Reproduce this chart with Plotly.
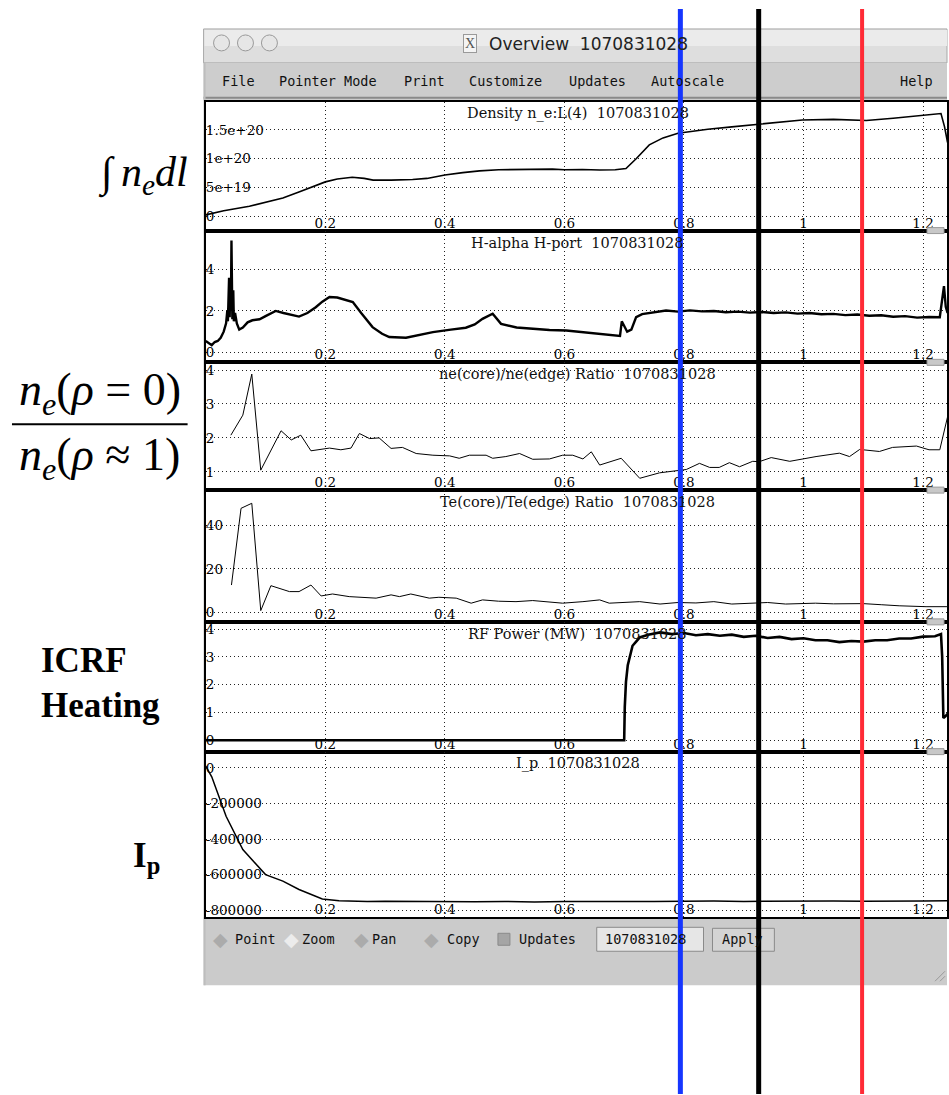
import plotly.graph_objects as go

# ---------------- data ----------------
x_ticks = [0.2, 0.4, 0.6, 0.8, 1.0, 1.2]
x_ticktext = ["0.2", "0.4", "0.6", "0.8", "1", "1.2"]

dens_t = [0, 0.03, 0.073, 0.1, 0.129, 0.157, 0.2, 0.22, 0.245, 0.265, 0.28, 0.31, 0.346, 0.37, 0.40,
          0.43, 0.458, 0.49, 0.52, 0.55, 0.58, 0.60, 0.63, 0.659, 0.685, 0.703, 0.72, 0.742, 0.765,
          0.79, 0.84, 0.88, 0.92, 0.96, 0.998, 1.05, 1.105, 1.15, 1.194, 1.23, 1.236, 1.241]
dens_v = [0.3e19, 1.0e19, 1.8e19, 2.5e19, 3.2e19, 4.3e19, 6.0e19, 6.5e19, 6.8e19, 6.6e19, 6.3e19,
          6.3e19, 6.4e19, 6.6e19, 7.2e19, 7.6e19, 7.9e19, 8.1e19, 8.15e19, 8.1e19, 8.2e19, 8.1e19,
          8.15e19, 8.05e19, 8.1e19, 8.3e19, 10.0e19, 12.4e19, 13.6e19, 14.4e19, 15.1e19, 15.5e19,
          15.9e19, 16.3e19, 16.7e19, 16.8e19, 16.6e19, 17.0e19, 17.4e19, 17.8e19, 15.5e19, 12.8e19]

ha_t = [0.0, 0.005, 0.01, 0.015, 0.02, 0.025, 0.03, 0.034, 0.036, 0.037, 0.038, 0.039, 0.040, 0.041,
        0.042, 0.043, 0.0445, 0.046, 0.047, 0.049, 0.052, 0.056, 0.062, 0.07, 0.078, 0.09, 0.10,
        0.117, 0.13, 0.145, 0.156, 0.17, 0.184, 0.195, 0.207, 0.22, 0.229, 0.246, 0.26, 0.279, 0.295,
        0.307, 0.335, 0.36, 0.38, 0.41, 0.435, 0.45, 0.463, 0.48, 0.487, 0.494, 0.52, 0.547, 0.575,
        0.603, 0.63, 0.653, 0.68, 0.693, 0.696, 0.70, 0.705, 0.712, 0.72, 0.73, 0.75, 0.77, 0.79,
        0.81, 0.83, 0.85, 0.87, 0.89, 0.91, 0.93, 0.95, 0.97, 0.99, 1.01, 1.03, 1.05, 1.07, 1.09,
        1.11, 1.13, 1.15, 1.17, 1.19, 1.21, 1.228, 1.232, 1.235, 1.238, 1.241]
ha_v = [0.55, 0.45, 0.35, 0.5, 0.55, 0.7, 1.0, 1.4, 2.0, 1.5, 2.6, 3.6, 1.7, 3.3, 2.0, 5.4, 1.6,
        3.0, 1.5, 1.9, 1.4, 1.1, 1.2, 1.45, 1.55, 1.6, 1.75, 2.0, 1.9, 1.8, 1.73, 1.9, 2.18, 2.45,
        2.67, 2.65, 2.58, 2.43, 1.9, 1.22, 0.9, 0.74, 0.71, 0.85, 0.98, 1.1, 1.19, 1.35, 1.62, 1.87,
        1.6, 1.38, 1.2, 1.14, 1.08, 1.06, 0.98, 0.9, 0.85, 0.8, 1.5, 1.3, 1.0, 1.1, 1.7, 1.85, 1.95,
        2.02, 1.97, 2.03, 1.98, 2.0, 1.94, 1.97, 1.92, 1.95, 1.9, 1.93, 1.87, 1.9, 1.84, 1.86, 1.8,
        1.83, 1.77, 1.79, 1.72, 1.75, 1.68, 1.71, 1.7, 2.6, 3.2, 2.2, 1.9]

ner_t = [0.042, 0.062, 0.077, 0.092, 0.126, 0.143, 0.159, 0.176, 0.207, 0.226, 0.243, 0.257, 0.274,
         0.290, 0.31, 0.329, 0.352, 0.38, 0.408, 0.424, 0.441, 0.469, 0.48, 0.502, 0.525, 0.547,
         0.575, 0.597, 0.614, 0.631, 0.645, 0.659, 0.695, 0.726, 0.759, 0.804, 0.826, 0.843, 0.859,
         0.876, 0.893, 0.915, 0.926, 0.946, 0.977, 1.021, 1.06, 1.077, 1.094, 1.127, 1.149, 1.189,
         1.21, 1.228, 1.241]
ner_v = [2.08, 2.67, 3.88, 1.05, 2.21, 1.94, 2.08, 1.62, 1.70, 1.65, 1.70, 2.13, 1.98, 2.0, 1.69,
         1.72, 1.54, 1.49, 1.47, 1.40, 1.49, 1.49, 1.40, 1.45, 1.54, 1.37, 1.38, 1.49, 1.49, 1.38,
         1.59, 1.20, 1.40, 0.81, 0.97, 1.07, 1.25, 1.13, 1.13, 1.27, 1.15, 1.31, 1.30, 1.42, 1.31,
         1.45, 1.55, 1.45, 1.66, 1.60, 1.72, 1.76, 1.65, 1.65, 2.62]

ter_t = [0.043, 0.059, 0.077, 0.092, 0.109, 0.125, 0.14, 0.156, 0.176, 0.193, 0.212, 0.24, 0.285,
         0.31, 0.324, 0.343, 0.374, 0.39, 0.419, 0.444, 0.463, 0.49, 0.519, 0.547, 0.575, 0.597,
         0.631, 0.659, 0.675, 0.70, 0.726, 0.76, 0.79, 0.82, 0.85, 0.88, 0.91, 0.94, 0.97, 1.0,
         1.02, 1.05, 1.07, 1.1, 1.13, 1.16, 1.205, 1.24]
ter_v = [12.6, 47.7, 50.0, 0.9, 12.3, 10.8, 9.6, 9.6, 12.6, 7.6, 8.5, 7.3, 6.6, 8.1, 7.3, 8.5, 6.6,
         7.0, 6.6, 4.3, 5.8, 5.2, 5.0, 5.5, 5.0, 4.3, 5.0, 5.8, 4.3, 4.8, 5.0, 3.9, 4.6, 4.4, 5.0,
         3.9, 4.3, 4.6, 3.9, 4.2, 4.3, 4.0, 3.9, 4.1, 3.6, 3.1, 2.7, 2.7]

rf_t = [0.0, 0.700, 0.701, 0.703, 0.706, 0.710, 0.714, 0.72, 0.726, 0.74, 0.76, 0.78, 0.80, 0.82,
        0.84, 0.86, 0.88, 0.90, 0.92, 0.94, 0.96, 0.98, 1.0, 1.02, 1.04, 1.06, 1.08, 1.10, 1.12,
        1.14, 1.16, 1.18, 1.2, 1.22, 1.23, 1.232, 1.234, 1.237, 1.241]
rf_v = [0.0, 0.0, 1.2, 2.1, 2.7, 3.1, 3.4, 3.55, 3.7, 3.8, 3.88, 3.82, 3.86, 3.78, 3.82, 3.76, 3.8,
        3.72, 3.76, 3.68, 3.72, 3.64, 3.67, 3.6, 3.6, 3.53, 3.57, 3.55, 3.6, 3.6, 3.66, 3.66, 3.73,
        3.74, 3.82, 3.0, 0.8, 0.85, 0.95]

ip_t = [0.0, 0.01, 0.034, 0.062, 0.1, 0.129, 0.156, 0.195, 0.223, 0.25, 0.27, 0.3, 0.35, 0.4, 0.45,
        0.5, 0.55, 0.6, 0.65, 0.7, 0.75, 0.8, 0.85, 0.9, 0.95, 1.0, 1.05, 1.1, 1.15, 1.2, 1.241]
ip_v = [10000, -50000, -272000, -459000, -600000, -637000, -684000, -737000, -747000, -750000,
        -752000, -750000, -752000, -755000, -753000, -751000, -754000, -752000, -750000, -751000,
        -752000, -750000, -749000, -751000, -749000, -750000, -749000, -750000, -751000, -749000,
        -747000]

panel_titles = ["Density n_e:L(4)\u00a0\u00a01070831028", "H-alpha H-port\u00a0\u00a01070831028",
                "ne(core)/ne(edge) Ratio\u00a0\u00a01070831028",
                "Te(core)/Te(edge) Ratio\u00a0\u00a01070831028",
                "RF Power (MW)\u00a0\u00a01070831028", "I_p\u00a0\u00a01070831028"]

y_tickvals = [[0, 5e19, 1e20, 1.5e20], [0, 2, 4], [1, 2, 3, 4], [0, 20, 40], [0, 1, 2, 3, 4],
              [0, -200000, -400000, -600000, -800000]]
y_ticktext = [["0", "5e+19", "1e+20", "1.5e+20"], ["0", "2", "4"], ["1", "2", "3", "4"],
              ["0", "20", "40"], ["0", "1", "2", "3", "4"],
              ["0", "-200000", "-400000", "-600000", "-800000"]]
y_ranges = [[-2.41e19, 1.983e20], [-0.48, 5.88], [0.462, 4.226], [-4.25, 56.03], [-0.41, 4.26],
            [-840400, 91600]]

cursor_times = [0.794, 0.925, 1.098]
cursor_colors = ["#1636ff", "#000000", "#ff2b36"]
cursor_widths = [5, 5, 4]

# ---------------- layout geometry ----------------
W, H = 949, 1095
def fx(px):
    return px / W
def fy(py):
    return 1 - py / H

panels_px = [(101, 230), (230, 362), (362, 490), (490, 622), (622, 752), (752, 918)]
X_LEFT, X_RIGHT = 206, 949
x_range = [(X_LEFT - 206.2) / 599.0, (X_RIGHT - 206.2) / 599.0]

series = [(dens_t, dens_v, 1.6), (ha_t, ha_v, 2.4), (ner_t, ner_v, 1.0), (ter_t, ter_v, 1.0),
          (rf_t, rf_v, 2.6), (ip_t, ip_v, 1.5)]

fig = go.Figure()
tick_font = dict(family="DejaVu Serif", size=13.5, color="black")
layout_axes = {}
for i, (t, v, w) in enumerate(series):
    n = "" if i == 0 else str(i + 1)
    fig.add_trace(go.Scatter(x=t, y=v, mode="lines", line=dict(color="black", width=w),
                             xaxis="x" + n, yaxis="y" + n, showlegend=False, hoverinfo="skip"))
    top, bot = panels_px[i]
    layout_axes["xaxis" + n] = dict(
        domain=[fx(X_LEFT), fx(X_RIGHT)], anchor="y" + n, range=x_range,
        tickvals=x_ticks, ticktext=x_ticktext, ticklabelposition="inside", ticklabeloverflow="allow",
        ticks="", showgrid=True, gridcolor="#222", griddash="1px,3px", gridwidth=1,
        showline=True, linecolor="black", linewidth=2, mirror=True, zeroline=False,
        tickfont=tick_font, fixedrange=True)
    layout_axes["yaxis" + n] = dict(
        domain=[fy(bot), fy(top)], anchor="x" + n, range=y_ranges[i],
        tickvals=y_tickvals[i], ticktext=y_ticktext[i], ticklabelposition="inside",
        ticklabeloverflow="allow", ticks="", showgrid=True, gridcolor="#222",
        griddash="1px,3px", gridwidth=1, showline=True, linecolor="black", linewidth=2,
        mirror=True, zeroline=False, tickfont=tick_font, fixedrange=True)

shapes = []
annotations = []

def txt(px, py, text, font, xanchor="left", **kw):
    d = dict(x=fx(px), y=fy(py), xref="paper", yref="paper", text=text, showarrow=False,
             xanchor=xanchor, yanchor="middle", font=font)
    d.update(kw)
    annotations.append(d)

def rect(x0, y0, x1, y1, fill, line=None, layer="below"):
    shapes.append(dict(type="rect", xref="paper", yref="paper", x0=fx(x0), x1=fx(x1),
                       y0=fy(y1), y1=fy(y0), fillcolor=fill,
                       line=line if line else dict(width=0), layer=layer))

menu_font = dict(family="DejaVu Sans Mono", size=13.5, color="#111")

# window chrome
rect(204, 28, 949, 62, "#dedede", dict(color="#a8a8a8", width=1))
rect(205, 29, 949, 45, "#ebebeb")
rect(204, 62, 949, 100, "#cdcdcd")
shapes.append(dict(type="line", xref="paper", yref="paper", x0=fx(204), x1=1, y0=fy(97), y1=fy(97),
                   line=dict(color="#8a8a8a", width=2), layer="below"))
rect(204, 918, 949, 986, "#cbcbcb")
rect(204, 62, 206, 986, "#bdbdbd")
for cx in [222, 246, 270]:
    shapes.append(dict(type="circle", xref="paper", yref="paper", x0=fx(cx - 8), x1=fx(cx + 8),
                       y0=fy(50), y1=fy(34), fillcolor="#e6e6e6",
                       line=dict(color="#9a9a9a", width=1)))
# window title
txt(471, 43, "X", dict(family="Liberation Serif", size=14, color="#555"), xanchor="center",
    bgcolor="#f4f4f4", bordercolor="#9a9a9a", borderwidth=1, borderpad=1)
txt(488, 43, "Overview\u00a0\u00a01070831028", dict(family="DejaVu Sans", size=17, color="#222"))
# menu
for label, px in [("File", 220), ("Pointer Mode", 278), ("Print", 403), ("Customize", 468),
                  ("Updates", 568), ("Autoscale", 650), ("Help", 900)]:
    txt(px, 80, label, menu_font)
# bottom toolbar
for label, dx, tx in [("Point", 221, 233), ("Zoom", 292, 301), ("Pan", 362, 371), ("Copy", 432, 446)]:
    txt(dx, 940, "\u25c6", dict(family="DejaVu Sans", size=19,
                                color="#ececec" if label == "Zoom" else "#ababab"),
        xanchor="center")
    txt(tx, 940, label, menu_font)
rect(499, 934, 511, 946, "#a5a5a5", dict(color="#8a8a8a", width=1), layer="above")
txt(518, 940, "Updates", menu_font)
rect(598, 928, 705, 952, "#e6e6e6", dict(color="#8a8a8a", width=1), layer="above")
txt(604, 940, "1070831028", menu_font)
rect(714, 929, 776, 952, "#d4d4d4", dict(color="#8a8a8a", width=1), layer="above")
txt(722, 940, "Apply", menu_font)
for off in [0, 5]:
    shapes.append(dict(type="line", xref="paper", yref="paper", x0=fx(937 + off), x1=fx(947),
                       y0=fy(982), y1=fy(972 + off), line=dict(color="#999", width=1)))

# slider handles at panel boundaries
for b in [230, 362, 490, 622, 752]:
    rect(929, b - 3, 946, b + 3, "#c8c8c8", dict(color="#9a9a9a", width=1), layer="above")

# panel titles
for i, title in enumerate(panel_titles):
    top, bot = panels_px[i]
    txt(579, top + 12, title, dict(family="DejaVu Serif", size=14.5, color="#111"),
        xanchor="center")

# left-hand labels
txt(190, 174, "\u222b\u2009<i>n<sub>e</sub>dl</i>", dict(family="Liberation Serif", size=42,
                                                       color="black"), xanchor="right")
txt(100, 393, "<i>n<sub>e</sub></i>(<i>\u03c1</i> = 0)", dict(family="Liberation Serif", size=46,
                                                            color="black"), xanchor="center")
txt(100, 458, "<i>n<sub>e</sub></i>(<i>\u03c1</i> \u2248 1)", dict(family="Liberation Serif", size=46,
                                                                 color="black"), xanchor="center")
shapes.append(dict(type="line", xref="paper", yref="paper", x0=fx(12), x1=fx(188), y0=fy(424),
                   y1=fy(424), line=dict(color="black", width=2)))
txt(39, 661, "<b>ICRF</b>", dict(family="Liberation Serif", size=35, color="black"))
txt(39, 706, "<b>Heating</b>", dict(family="Liberation Serif", size=35, color="black"))
txt(131, 858, "<b>I<sub>p</sub></b>", dict(family="Liberation Serif", size=35, color="black"))

# cursor lines
for t, c, w in zip(cursor_times, cursor_colors, cursor_widths):
    shapes.append(dict(type="line", xref="x", yref="paper", x0=t, x1=t, y0=0, y1=fy(8),
                       line=dict(color=c, width=w), layer="above"))

fig.update_layout(width=W, height=H, margin=dict(l=0, r=0, t=0, b=0), paper_bgcolor="white",
                  plot_bgcolor="white", showlegend=False, shapes=shapes, annotations=annotations,
                  **layout_axes)
fig.write_html("out.html")
